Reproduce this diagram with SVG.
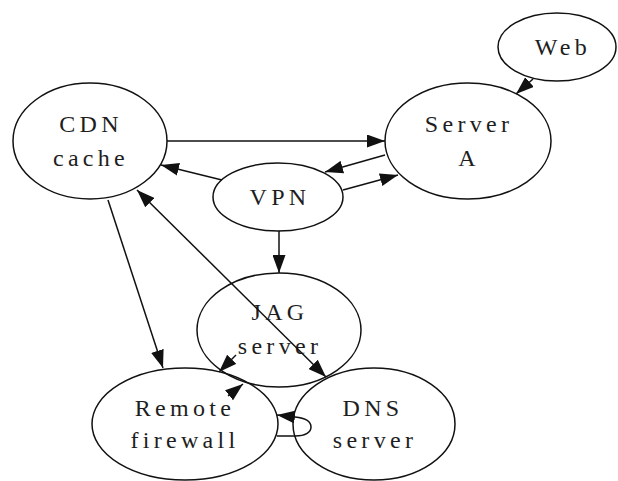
<svg xmlns="http://www.w3.org/2000/svg" width="618" height="481" viewBox="0 0 618 481">
  <style>
    .node ellipse { fill: none; stroke: #111; stroke-width: 1.5; }
    .node text { fill: #1e1e1e; text-anchor: middle; }
    .edge { fill: none; stroke: #111; stroke-width: 1.5; marker-end: url(#ah); }
    .both { marker-start: url(#ah); }
  </style>
  <defs>
    <marker id="ah" viewBox="0 0 18 13" refX="18" refY="6.5" markerWidth="18" markerHeight="13" markerUnits="userSpaceOnUse" orient="auto-start-reverse">
      <path d="M0,0 L18,6.5 L0,13 z" fill="#111"/>
    </marker>
  </defs>
  <rect width="618" height="481" fill="#fff"/>

  <g id="nodes" font-family="Liberation Serif" font-size="24" letter-spacing="4.3">
    <g id="web" class="node">
      <ellipse cx="557" cy="47" rx="59" ry="34"/>
      <text x="563" y="55">Web</text>
    </g>
    <g id="cdn" class="node">
      <ellipse cx="90" cy="141" rx="77" ry="58"/>
      <text x="91" y="132">CDN</text>
      <text x="91" y="166">cache</text>
    </g>
    <g id="serverA" class="node">
      <ellipse cx="468" cy="141" rx="83" ry="58"/>
      <text x="469" y="132">Server</text>
      <text x="469" y="166">A</text>
    </g>
    <g id="vpn" class="node">
      <ellipse cx="278" cy="197" rx="65" ry="34"/>
      <text x="280" y="205">VPN</text>
    </g>
    <g id="jag" class="node">
      <ellipse cx="279" cy="330" rx="82" ry="57"/>
      <text x="280" y="320">JAG</text>
      <text x="280" y="354">server</text>
    </g>
    <g id="firewall" class="node">
      <ellipse cx="185" cy="424" rx="93" ry="56"/>
      <text x="185" y="416">Remote</text>
      <text x="185" y="448">firewall</text>
    </g>
    <g id="dns" class="node">
      <ellipse cx="374" cy="424" rx="81" ry="56"/>
      <text x="373" y="416">DNS</text>
      <text x="375" y="448">server</text>
    </g>
  </g>

  <g id="edges">
    <path class="edge" d="M533,79 L516,94"/>
    <path class="edge" d="M167,141 L385,141"/>
    <path class="edge" d="M385,155 L325,172"/>
    <path class="edge" d="M343,190 L398,175"/>
    <path class="edge" d="M222,180 L161,165"/>
    <path class="edge" d="M279,231 L279,273"/>
    <path class="edge" d="M108,200 L163,368"/>
    <path class="edge both" d="M137,190 L326,377"/>
    <path class="edge" d="M236,355 L219,372"/>
    <path class="edge" d="M228,396 L243,384"/>
    <path class="edge" d="M277,436 L295,436 C306,436 311,432 311,427 C311,421 305,418 295,417 L277,415"/>
  </g>
</svg>
